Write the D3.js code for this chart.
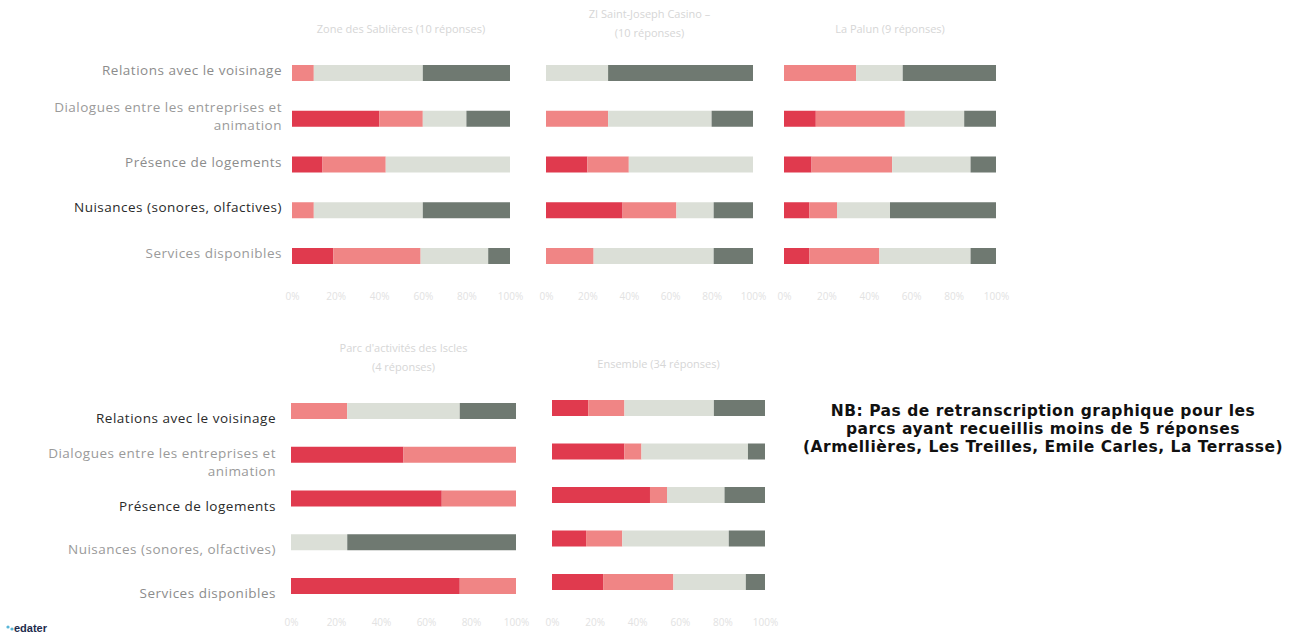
<!DOCTYPE html>
<html lang="fr">
<head>
<meta charset="utf-8">
<script src="https://cdn.jsdelivr.net/npm/d3@7"></script>
<style>
  html, body { margin: 0; padding: 0; background: #fff; }
  svg { display: block; }
  .cat { font-family: "Open Sans", sans-serif; font-size: 13.5px; letter-spacing: 0.5px; }
  .ptitle { font-family: "Open Sans", sans-serif; font-size: 11px; fill: #d6d6d6; }
  .tick text { font-family: "Open Sans", sans-serif; font-size: 10px; fill: #e2e2e2; }
  .nb { font-family: "DejaVu Sans", sans-serif; font-weight: bold; font-size: 15.5px; letter-spacing: 0.5px; fill: #111; }
</style>
</head>
<body>
<svg id="chart" width="1292" height="634"></svg>
<script>
// Satisfaction items (rows) and the four answer levels stacked in each bar
const categories = [
  "Relations avec le voisinage",
  "Dialogues entre les entreprises et animation",
  "Présence de logements",
  "Nuisances (sonores, olfactives)",
  "Services disponibles"
];
const categoryLines = [
  ["Relations avec le voisinage"],
  ["Dialogues entre les entreprises et", "animation"],
  ["Présence de logements"],
  ["Nuisances (sonores, olfactives)"],
  ["Services disponibles"]
];
const levels = ["tresInsatisfait", "insatisfait", "satisfait", "tresSatisfait"];
const levelColors = ["#e03a4e", "#f08585", "#dbdfd7", "#6f7971"];

// Shares (%) per item, one array per park
const parcA = [[0, 10, 50, 40], [40, 20, 20, 20], [14, 29, 57, 0], [0, 10, 50, 40], [19, 40, 31, 10]];
const parcB = [[0, 0, 30, 70], [0, 30, 50, 20], [20, 20, 60, 0], [37, 26, 18, 19], [0, 23, 58, 19]];
const parcC = [[0, 34, 22, 44], [15, 42, 28, 15], [13, 38, 37, 12], [12, 13, 25, 50], [12, 33, 43, 12]];
const parcD = [[0, 25, 50, 25], [50, 50, 0, 0], [67, 33, 0, 0], [0, 0, 25, 75], [75, 25, 0, 0]];
const parcE = [[17, 17, 42, 24], [34, 8, 50, 8], [46, 8, 27, 19], [16, 17, 50, 17], [24, 33, 34, 9]];

const panelTitles = [
  ["Zone des Sablières (10 réponses)"],
  ["ZI Saint-Joseph Casino –", "(10 réponses)"],
  ["La Palun (9 réponses)"],
  ["Parc d'activités des Iscles", "(4 réponses)"],
  ["Ensemble (34 réponses)"]
];
const tickValues = [0, 0.2, 0.4, 0.6, 0.8, 1];

// Label colours (emphasis differs between the two rows of panels)
const labelColorsTop = ["#8c8c8c", "#9a9a9a", "#8c8c8c", "#2a2a2a", "#9a9a9a"];
const labelColorsBottom = ["#2a2a2a", "#9a9a9a", "#2a2a2a", "#9a9a9a", "#8c8c8c"];

const svg = d3.select("#chart");

const panels = [
  { data: parcA, x: [292, 510], y: [73, 256], title: panelTitles[0], titleY: 33, axisY: 290, labels: labelColorsTop, labelX: 282, labelShift: -2 },
  { data: parcB, x: [546, 753], y: [73, 256], title: panelTitles[1], titleY: 18, axisY: 290 },
  { data: parcC, x: [784, 996], y: [73, 256], title: panelTitles[2], titleY: 33, axisY: 290 },
  { data: parcD, x: [291, 516], y: [411, 586], title: panelTitles[3], titleY: 352, axisY: 616, labels: labelColorsBottom, labelX: 276, labelShift: 8 },
  { data: parcE, x: [552, 765], y: [408, 582], title: panelTitles[4], titleY: 368, axisY: 616 }
];

const barH = 16;
const stack = d3.stack().keys(d3.range(levels.length));

panels.forEach(p => {
  const x = d3.scaleLinear().domain([0, 100]).range(p.x);
  const y = d3.scalePoint().domain(categories).range(p.y);
  const g = svg.append("g");

  const series = stack(p.data);
  g.selectAll("g.layer")
    .data(series)
    .join("g")
    .attr("class", "layer")
    .attr("fill", (d, i) => levelColors[i])
    .selectAll("rect")
    .data(d => d.map((v, j) => ({ v, cat: categories[j] })))
    .join("rect")
    .attr("x", d => x(d.v[0]))
    .attr("width", d => Math.max(0, x(d.v[1]) - x(d.v[0])))
    .attr("y", d => y(d.cat) - barH / 2)
    .attr("height", barH);

  // Panel title
  const cx = (p.x[0] + p.x[1]) / 2;
  g.append("text")
    .attr("class", "ptitle")
    .attr("text-anchor", "middle")
    .selectAll("tspan")
    .data(p.title)
    .join("tspan")
    .attr("x", cx)
    .attr("y", (d, i) => p.titleY + i * 19)
    .text(d => d);

  // Faint percentage axis
  const xp = d3.scaleLinear().domain([0, 1]).range(p.x);
  g.append("g")
    .attr("transform", `translate(0,${p.axisY})`)
    .call(d3.axisBottom(xp).tickValues(tickValues).tickFormat(d3.format(".0%")).tickSize(0))
    .call(a => a.select(".domain").remove());

  // Row labels on the left-hand panels
  if (p.labels) {
    categories.forEach((c, i) => {
      const lines = categoryLines[i];
      const cy = y(c) + p.labelShift;
      const t = g.append("text")
        .attr("class", "cat")
        .attr("text-anchor", "end")
        .attr("fill", p.labels[i]);
      lines.forEach((ln, k) => {
        t.append("tspan")
          .attr("x", p.labelX)
          .attr("y", cy + 4 + (k - (lines.length - 1) / 2) * 18)
          .text(ln);
      });
    });
  }
});

// Note on parks left out
const nb = [
  "NB: Pas de retranscription graphique pour les",
  "parcs ayant recueillis moins de 5 réponses",
  "(Armellières, Les Treilles, Emile Carles, La Terrasse)"
];
svg.append("text")
  .attr("class", "nb")
  .attr("text-anchor", "middle")
  .selectAll("tspan")
  .data(nb)
  .join("tspan")
  .attr("x", 1043)
  .attr("y", (d, i) => 416 + i * 18)
  .text(d => d);

// Small logo mark
svg.append("circle").attr("cx", 8).attr("cy", 627).attr("r", 1.6).attr("fill", "#58b6d8");
svg.append("circle").attr("cx", 12).attr("cy", 629).attr("r", 1.6).attr("fill", "#58b6d8");
svg.append("text")
  .attr("x", 14)
  .attr("y", 632)
  .attr("font-family", "Liberation Sans, Arial, sans-serif")
  .attr("font-weight", "bold")
  .attr("font-size", 11)
  .attr("fill", "#1d2b4c")
  .text("edater");
</script>
</body>
</html>
